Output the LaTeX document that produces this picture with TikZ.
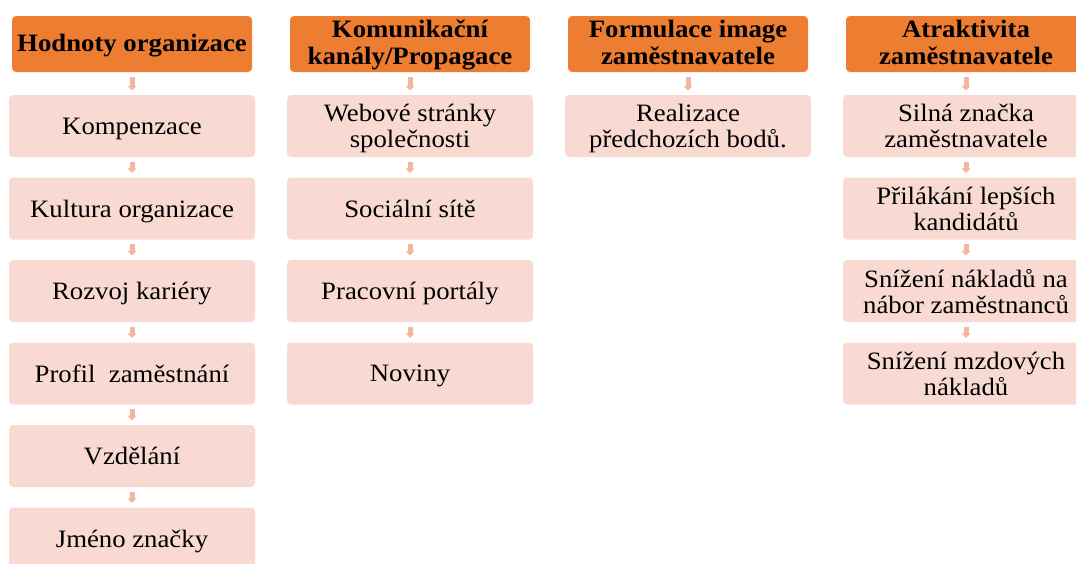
\documentclass[tikz,border=0pt]{standalone}
\usepackage{fontspec}
\setmainfont{Liberation Serif}[FakeStretch=1.07]
\usetikzlibrary{arrows.meta}
\definecolor{headorange}{HTML}{ED7D31}
\definecolor{itempink}{HTML}{F8DAD2}
\definecolor{arrowpink}{HTML}{F4B6A0}

\begin{document}
\begin{tikzpicture}[x=1pt,y=-1pt,
head/.style={fill=headorange,rounded corners=4pt,minimum width=240pt,minimum height=56pt,
  inner sep=0pt,text depth=3pt,align=center,font=\fontsize{25}{27}\selectfont\bfseries},
item/.style={fill=itempink,rounded corners=4pt,minimum width=246pt,minimum height=62pt,
  inner sep=0pt,text depth=0pt,align=center,font=\fontsize{25}{26}\selectfont},
link/.style={arrowpink,line width=5pt,shorten <=4.5pt,shorten >=4.5pt,
  -{Triangle[width=9pt,length=4.5pt]}}]
\useasboundingbox (0,0) rectangle (1076,563);
\clip (0,0) rectangle (1076,563);

\node[head] (h1) at (132,44) {Hodnoty organizace};
\node[item] (a1) at (132,126) {Kompenzace};
\node[item] (a2) at (132,208.5) {Kultura organizace};
\node[item] (a3) at (132,291) {Rozvoj kariéry};
\node[item] (a4) at (132,373.5) {Profil~ zaměstnání};
\node[item] (a5) at (132,456) {Vzdělání};
\node[item] (a6) at (132,538.5) {Jméno značky};

\node[head] (h2) at (410,44) {Komunikační\\kanály/Propagace};
\node[item] (b1) at (410,126) {Webové stránky\\společnosti};
\node[item] (b2) at (410,208.5) {Sociální sítě};
\node[item] (b3) at (410,291) {Pracovní portály};
\node[item] (b4) at (410,373.5) {Noviny};

\node[head] (h3) at (688,44) {Formulace image\\zaměstnavatele};
\node[item] (c1) at (688,126) {Realizace\\předchozích bodů.};

\node[head] (h4) at (966,44) {Atraktivita\\zaměstnavatele};
\node[item] (d1) at (966,126) {Silná značka\\zaměstnavatele};
\node[item] (d2) at (966,208.5) {Přilákání lepších\\kandidátů};
\node[item] (d3) at (966,291) {Snížení nákladů na\\nábor zaměstnanců};
\node[item] (d4) at (966,373.5) {Snížení mzdových\\nákladů};

\draw[link] (h1) -- (a1);
\draw[link] (a1) -- (a2);
\draw[link] (a2) -- (a3);
\draw[link] (a3) -- (a4);
\draw[link] (a4) -- (a5);
\draw[link] (a5) -- (a6);

\draw[link] (h2) -- (b1);
\draw[link] (b1) -- (b2);
\draw[link] (b2) -- (b3);
\draw[link] (b3) -- (b4);

\draw[link] (h3) -- (c1);

\draw[link] (h4) -- (d1);
\draw[link] (d1) -- (d2);
\draw[link] (d2) -- (d3);
\draw[link] (d3) -- (d4);
\end{tikzpicture}
\end{document}
